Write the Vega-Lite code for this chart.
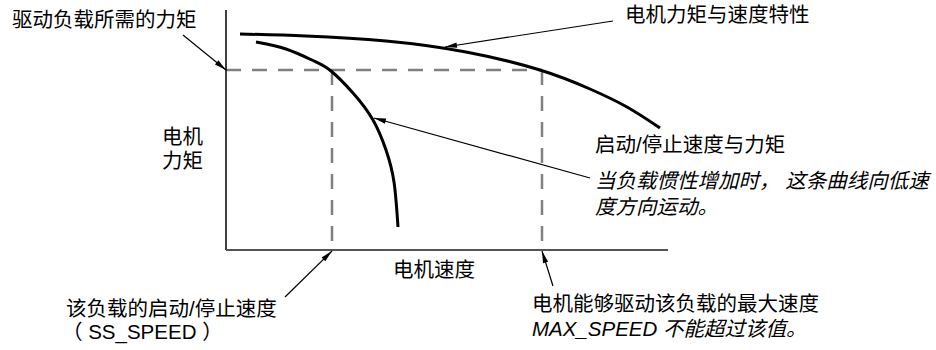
{
  "$schema": "https://vega.github.io/schema/vega-lite/v6.json",
  "width": 936,
  "height": 350,
  "autosize": {"type": "fit", "contains": "padding"},
  "padding": 0,
  "background": "white",
  "config": {"view": {"stroke": null}},
  "datasets": {
    "curves": [
      {"curve": "motor", "x": 240, "y": 34},
      {"curve": "motor", "x": 306, "y": 36},
      {"curve": "motor", "x": 386, "y": 41},
      {"curve": "motor", "x": 466, "y": 52},
      {"curve": "motor", "x": 540, "y": 70},
      {"curve": "motor", "x": 590, "y": 89},
      {"curve": "motor", "x": 627, "y": 107},
      {"curve": "motor", "x": 660, "y": 128},
      {"curve": "startstop", "x": 256, "y": 42},
      {"curve": "startstop", "x": 286, "y": 49},
      {"curve": "startstop", "x": 314, "y": 61},
      {"curve": "startstop", "x": 331, "y": 71},
      {"curve": "startstop", "x": 353, "y": 93},
      {"curve": "startstop", "x": 373, "y": 120},
      {"curve": "startstop", "x": 386, "y": 150},
      {"curve": "startstop", "x": 394, "y": 182},
      {"curve": "startstop", "x": 398, "y": 227}
    ],
    "dashes": [
      {"x": 226, "y": 70, "x2": 542, "y2": 70},
      {"x": 332, "y": 70, "x2": 332, "y2": 250},
      {"x": 542, "y": 70, "x2": 542, "y2": 250}
    ],
    "axisV": [{"x": 226, "y": 10, "x2": 226, "y2": 250}],
    "axisH": [{"x": 226, "y": 250, "x2": 668, "y2": 250}],
    "arrows": [
      {"sx": 183, "sy": 35, "tx": 226, "ty": 70},
      {"sx": 613, "sy": 21, "tx": 445, "ty": 47},
      {"sx": 590, "sy": 178, "tx": 374, "ty": 118},
      {"sx": 285, "sy": 297, "tx": 332, "ty": 251},
      {"sx": 553, "sy": 286, "tx": 542, "ty": 251}
    ],
    "labels": [
      {"x": 12, "y": 21, "text": "驱动负载所需的力矩"},
      {"x": 625, "y": 16, "text": "电机力矩与速度特性"},
      {"x": 162, "y": 138, "text": "电机"},
      {"x": 162, "y": 162, "text": "力矩"},
      {"x": 393, "y": 271, "text": "电机速度"},
      {"x": 595, "y": 146, "text": "启动/停止速度与力矩"},
      {"x": 66, "y": 310, "text": "该负载的启动/停止速度"},
      {"x": 62, "y": 333, "text": "（ SS_SPEED ）"},
      {"x": 532, "y": 305, "text": "电机能够驱动该负载的最大速度"}
    ],
    "notes": [
      {"x": 595, "y": 182, "text": "当负载惯性增加时， 这条曲线向低速"},
      {"x": 595, "y": 208, "text": "度方向运动。"},
      {"x": 532, "y": 330, "text": "MAX_SPEED 不能超过该值。"}
    ]
  },
  "layer": [
    {
      "data": {"name": "dashes"},
      "mark": {"type": "rule", "color": "#808080", "strokeWidth": 2.5, "strokeDash": [15, 11]},
      "encoding": {
        "x": {"field": "x", "type": "quantitative", "scale": {"domain": [0, 936]}, "axis": null},
        "y": {"field": "y", "type": "quantitative", "scale": {"domain": [0, 350], "reverse": true}, "axis": null},
        "x2": {"field": "x2"},
        "y2": {"field": "y2"}
      }
    },
    {
      "data": {"name": "axisV"},
      "mark": {"type": "rule", "color": "#000000", "strokeWidth": 1.5},
      "encoding": {
        "x": {"field": "x", "type": "quantitative", "scale": {"domain": [0, 936]}, "axis": null},
        "y": {"field": "y", "type": "quantitative", "scale": {"domain": [0, 350], "reverse": true}, "axis": null},
        "x2": {"field": "x2"},
        "y2": {"field": "y2"}
      }
    },
    {
      "data": {"name": "axisH"},
      "mark": {"type": "rule", "color": "#555555", "strokeWidth": 2},
      "encoding": {
        "x": {"field": "x", "type": "quantitative", "scale": {"domain": [0, 936]}, "axis": null},
        "y": {"field": "y", "type": "quantitative", "scale": {"domain": [0, 350], "reverse": true}, "axis": null},
        "x2": {"field": "x2"},
        "y2": {"field": "y2"}
      }
    },
    {
      "data": {"name": "curves"},
      "mark": {"type": "line", "color": "#000000", "strokeWidth": 3, "interpolate": "natural"},
      "encoding": {
        "x": {"field": "x", "type": "quantitative", "scale": {"domain": [0, 936]}, "axis": null},
        "y": {"field": "y", "type": "quantitative", "scale": {"domain": [0, 350], "reverse": true}, "axis": null},
        "detail": {"field": "curve"}
      }
    },
    {
      "data": {"name": "arrows"},
      "mark": {"type": "rule", "color": "#000000", "strokeWidth": 1.2},
      "encoding": {
        "x": {"field": "sx", "type": "quantitative", "scale": {"domain": [0, 936]}, "axis": null},
        "y": {"field": "sy", "type": "quantitative", "scale": {"domain": [0, 350], "reverse": true}, "axis": null},
        "x2": {"field": "tx"},
        "y2": {"field": "ty"}
      }
    },
    {
      "data": {"name": "arrows"},
      "transform": [
        {"calculate": "atan2(datum.tx - datum.sx, datum.sy - datum.ty) * 180 / PI", "as": "heading"}
      ],
      "mark": {"type": "point", "shape": "M0,0 L-0.45,2 L0.45,2 Z", "filled": true, "color": "#000000", "size": 144, "opacity": 1},
      "encoding": {
        "x": {"field": "tx", "type": "quantitative", "scale": {"domain": [0, 936]}, "axis": null},
        "y": {"field": "ty", "type": "quantitative", "scale": {"domain": [0, 350], "reverse": true}, "axis": null},
        "angle": {"field": "heading", "type": "quantitative", "scale": null}
      }
    },
    {
      "data": {"name": "labels"},
      "mark": {"type": "text", "align": "left", "baseline": "middle", "font": "Liberation Sans, Noto Sans CJK SC", "fontSize": 20.5, "color": "#000000"},
      "encoding": {
        "x": {"field": "x", "type": "quantitative", "scale": {"domain": [0, 936]}, "axis": null},
        "y": {"field": "y", "type": "quantitative", "scale": {"domain": [0, 350], "reverse": true}, "axis": null},
        "text": {"field": "text"}
      }
    },
    {
      "data": {"name": "notes"},
      "mark": {"type": "text", "align": "left", "baseline": "middle", "font": "Liberation Sans, Noto Sans CJK SC", "fontSize": 20.5, "fontStyle": "italic", "color": "#000000"},
      "encoding": {
        "x": {"field": "x", "type": "quantitative", "scale": {"domain": [0, 936]}, "axis": null},
        "y": {"field": "y", "type": "quantitative", "scale": {"domain": [0, 350], "reverse": true}, "axis": null},
        "text": {"field": "text"}
      }
    }
  ]
}
